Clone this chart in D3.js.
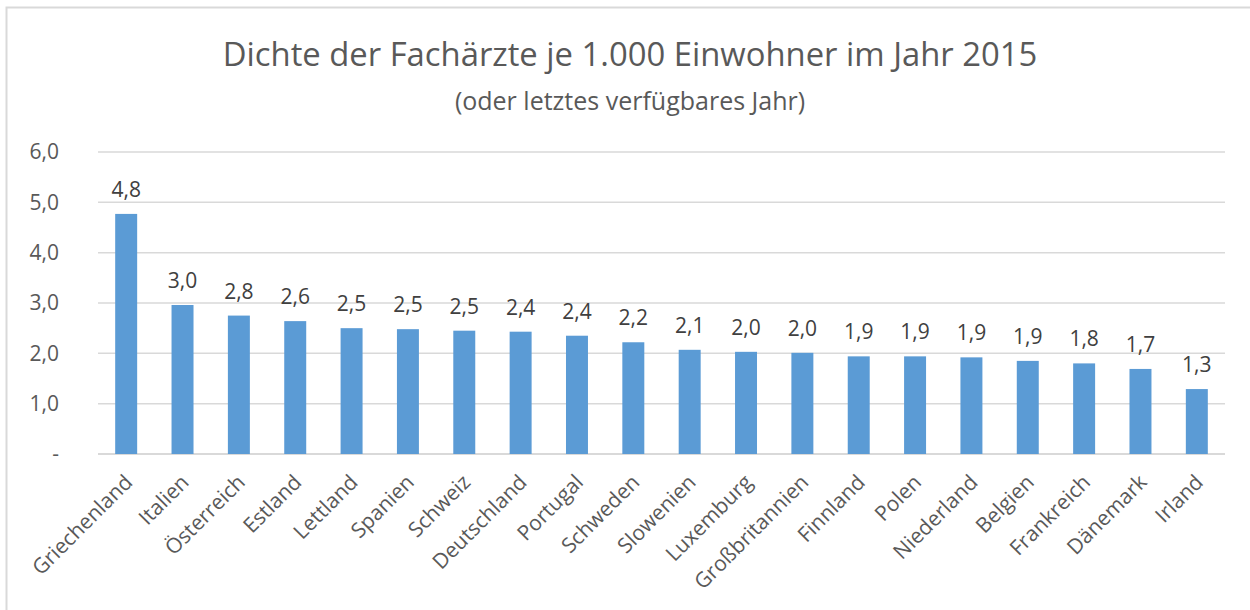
<!DOCTYPE html>
<html>
<head>
<meta charset="utf-8">
<script src="https://cdn.jsdelivr.net/npm/d3@7"></script>
<style>
  body { margin: 0; background: #fff; }
  svg text { font-family: "Open Sans", sans-serif; }
</style>
</head>
<body>
<svg id="chart" width="1250" height="610"></svg>
<script>
// data
const countries = ["Griechenland", "Italien", "Österreich", "Estland", "Lettland", "Spanien",
    "Schweiz", "Deutschland", "Portugal", "Schweden", "Slowenien", "Luxemburg",
    "Großbritannien", "Finnland", "Polen", "Niederland", "Belgien", "Frankreich",
    "Dänemark", "Irland"];
const density = [4.77, 2.96, 2.75, 2.64, 2.50, 2.48, 2.45, 2.43, 2.35, 2.22, 2.07, 2.03,
    2.01, 1.94, 1.94, 1.92, 1.85, 1.80, 1.69, 1.29];
const yTicks = [0, 1, 2, 3, 4, 5, 6];

const title = "Dichte der Fachärzte je 1.000 Einwohner im Jahr 2015";
const subtitle = "(oder letztes verfügbares Jahr)";

const fmt = v => v === 0 ? "-" : d3.format(".1f")(v).replace(".", ",");

const svg = d3.select("#chart");

// chart frame (cut off on the right and bottom like the screenshot)
svg.append("rect")
    .attr("x", 6.5).attr("y", 7.5)
    .attr("width", 1300).attr("height", 700)
    .attr("fill", "none")
    .attr("stroke", "#d9d9d9")
    .attr("stroke-width", 2);

const plotLeft = 98, plotRight = 1225, plotTop = 152, plotBottom = 454;

const x = d3.scaleBand()
    .domain(countries)
    .range([plotLeft, plotRight])
    .paddingInner(0.61)
    .paddingOuter(0.305);

const y = d3.scaleLinear()
    .domain([0, 6])
    .range([plotBottom, plotTop]);

// titles
svg.append("text")
    .attr("x", 630).attr("y", 66)
    .attr("text-anchor", "middle")
    .style("font-size", "32.8px")
    .style("fill", "#595959")
    .text(title);

svg.append("text")
    .attr("x", 630).attr("y", 110)
    .attr("text-anchor", "middle")
    .style("font-size", "25px")
    .style("fill", "#595959")
    .text(subtitle);

// gridlines
svg.append("g")
    .selectAll("line")
    .data(yTicks)
    .enter()
    .append("line")
    .attr("x1", plotLeft).attr("x2", plotRight)
    .attr("y1", d => y(d)).attr("y2", d => y(d))
    .attr("stroke", "#d9d9d9")
    .attr("stroke-width", d => d === 0 ? 2 : 1.5);

// y axis labels
const yAxis = d3.axisLeft(y)
    .tickValues(yTicks)
    .tickFormat(fmt)
    .tickSize(0)
    .tickPadding(0);

const yg = svg.append("g")
    .attr("transform", "translate(59,0)")
    .call(yAxis);
yg.select(".domain").remove();
yg.selectAll("text")
    .style("font-family", "'Open Sans', sans-serif")
    .style("font-size", "21px")
    .style("fill", "#595959");

// bars
svg.append("g")
    .selectAll("rect")
    .data(density)
    .enter()
    .append("rect")
    .attr("x", (d, i) => x(countries[i]))
    .attr("y", d => y(d))
    .attr("width", x.bandwidth())
    .attr("height", d => y(0) - y(d))
    .attr("fill", "#5b9bd5");

// value labels
svg.append("g")
    .selectAll("text")
    .data(density)
    .enter()
    .append("text")
    .attr("x", (d, i) => x(countries[i]) + x.bandwidth() / 2)
    .attr("y", d => y(d) - 17)
    .attr("text-anchor", "middle")
    .style("font-size", "21px")
    .style("fill", "#404040")
    .text(fmt);

// x axis labels, rotated
const xAxis = d3.axisBottom(x).tickSize(0).tickPadding(0);
const xg = svg.append("g")
    .attr("transform", "translate(0," + plotBottom + ")")
    .call(xAxis);
xg.select(".domain").remove();
xg.selectAll("text")
    .attr("x", 0).attr("y", 0)
    .attr("dy", "0.71em")
    .attr("text-anchor", "end")
    .attr("transform", "translate(-3,19) rotate(-45)")
    .style("font-family", "'Open Sans', sans-serif")
    .style("font-size", "21px")
    .style("fill", "#595959");
</script>
</body>
</html>
